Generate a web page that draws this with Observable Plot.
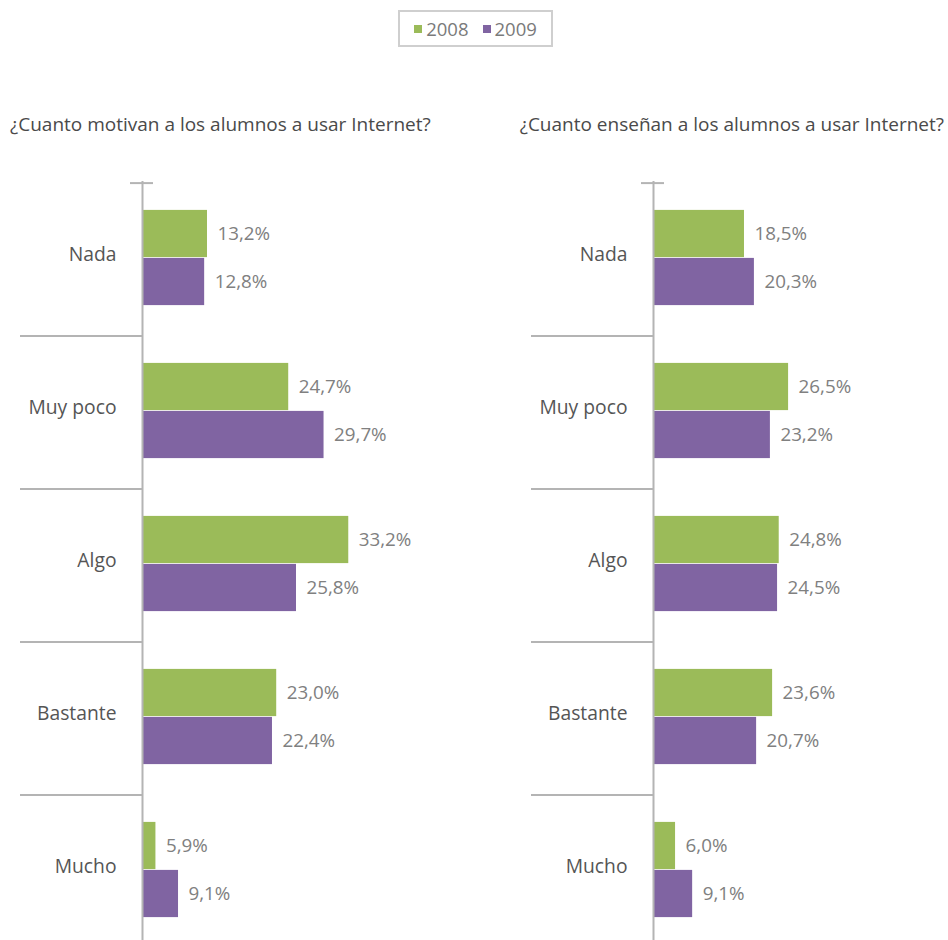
<!DOCTYPE html>
<html><head><meta charset="utf-8">
<script src="https://cdn.jsdelivr.net/npm/d3@7"></script>
<script src="https://cdn.jsdelivr.net/npm/@observablehq/plot@0.6"></script>
<style>
html,body{margin:0;padding:0;background:#fff;overflow:hidden;}
#root{position:relative;width:948px;height:940px;font-family:"Open Sans", sans-serif;overflow:hidden;}
.title{position:absolute;top:111px;font-size:19px;color:#4a4a4a;white-space:nowrap;line-height:26px;}
.panel{position:absolute;top:0;}
#legend{position:absolute;left:398px;top:10px;width:151px;height:33px;border:2px solid #cfcfcf;box-sizing:content-box;display:flex;align-items:center;justify-content:center;gap:14px;font-size:18.5px;color:#7a7a7a;}
#legend .item{display:flex;align-items:center;gap:4px;}
#legend .sw{width:8px;height:8px;display:inline-block;}
</style></head><body><div id="root"></div>
<script>
const categories = ["Nada", "Muy poco", "Algo", "Bastante", "Mucho"];
const years = ["2008", "2009"];
const colors = ["#9bbb59", "#8064a2"];
const motivan2008 = [13.2, 24.7, 33.2, 23.0, 5.9];
const motivan2009 = [12.8, 29.7, 25.8, 22.4, 9.1];
const ensenan2008 = [18.5, 26.5, 24.8, 23.6, 6.0];
const ensenan2009 = [20.3, 23.2, 24.5, 20.7, 9.1];
const titles = ["¿Cuanto motivan a los alumnos a usar Internet?", "¿Cuanto enseñan a los alumnos a usar Internet?"];

const root = document.getElementById("root");

// legend
const legend = document.createElement("div");
legend.id = "legend";
years.forEach((y, i) => {
  const it = document.createElement("span");
  it.className = "item";
  const sw = document.createElement("span");
  sw.className = "sw";
  sw.style.background = colors[i];
  const t = document.createElement("span");
  t.textContent = y;
  it.appendChild(sw); it.appendChild(t);
  legend.appendChild(it);
});
root.appendChild(legend);

const fmt = v => v.toFixed(1).replace(".", ",") + "%";

function panel({v2008, v2009, domain, marginLeft, left, title, titleStyle, sepStart}) {
  const rows2008 = categories.map((c, i) => ({category: c, year: years[0], value: v2008[i]}));
  const rows2009 = categories.map((c, i) => ({category: c, year: years[1], value: v2009[i]}));
  const W = 474, H = 950, mt = 181, mb = 0;
  const bw = (H - mt - mb) / categories.length;
  const barH = 48;
  const base = domain[0];
  const frameW = W - marginLeft;
  const lineColor = "#b4b4b4";
  const svg = Plot.plot({
    width: W, height: H, marginTop: mt, marginBottom: mb, marginLeft, marginRight: 0,
    style: {fontFamily: "'Open Sans', sans-serif", fontSize: "18px", color: "#555555", background: "transparent", overflow: "visible"},
    x: {domain, axis: null},
    y: {domain: categories, padding: 0, label: null, axis: null},
    color: {domain: years, range: colors},
    marks: [
      Plot.barX(rows2008, {y: "category", x1: () => base, x2: "value", fill: "year", insetTop: bw / 2 - barH - 2, insetBottom: bw / 2 + 2}),
      Plot.barX(rows2009, {y: "category", x1: () => base, x2: "value", fill: "year", insetTop: bw / 2 - 2, insetBottom: bw / 2 - barH + 2}),
      Plot.ruleY(categories.slice(1), {dy: -bw / 2, insetLeft: -(marginLeft - sepStart), insetRight: frameW, stroke: lineColor, strokeWidth: 2}),
      Plot.ruleY(categories.slice(0, 1), {dy: -bw / 2, insetLeft: -12, insetRight: frameW - 11, stroke: lineColor, strokeWidth: 2}),
      Plot.ruleX([base], {stroke: lineColor, strokeWidth: 2}),
      Plot.axisY({anchor: "left", tickSize: 0, tickPadding: 26, fontSize: 19.3, dy: -5, label: null}),
      Plot.text(rows2008, {x: "value", y: "category", text: d => fmt(d.value), dx: 10, dy: -barH / 2 - 2, textAnchor: "start", fill: "#808080", fontSize: 18.8}),
      Plot.text(rows2009, {x: "value", y: "category", text: d => fmt(d.value), dx: 10, dy: barH / 2 - 2, textAnchor: "start", fill: "#808080", fontSize: 18.8})
    ]
  });
  const wrap = document.createElement("div");
  wrap.className = "panel";
  wrap.style.left = left + "px";
  wrap.appendChild(svg);
  root.appendChild(wrap);
  const t = document.createElement("div");
  t.className = "title";
  Object.assign(t.style, titleStyle);
  t.textContent = title;
  root.appendChild(t);
}

panel({v2008: motivan2008, v2009: motivan2009, domain: [4, 51], marginLeft: 142, left: 0, title: titles[0], titleStyle: {left: "10px"}, sepStart: 20});
panel({v2008: ensenan2008, v2009: ensenan2009, domain: [2, 55.5], marginLeft: 179, left: 474, title: titles[1], titleStyle: {right: "4px"}, sepStart: 57});
</script>
</body></html>
